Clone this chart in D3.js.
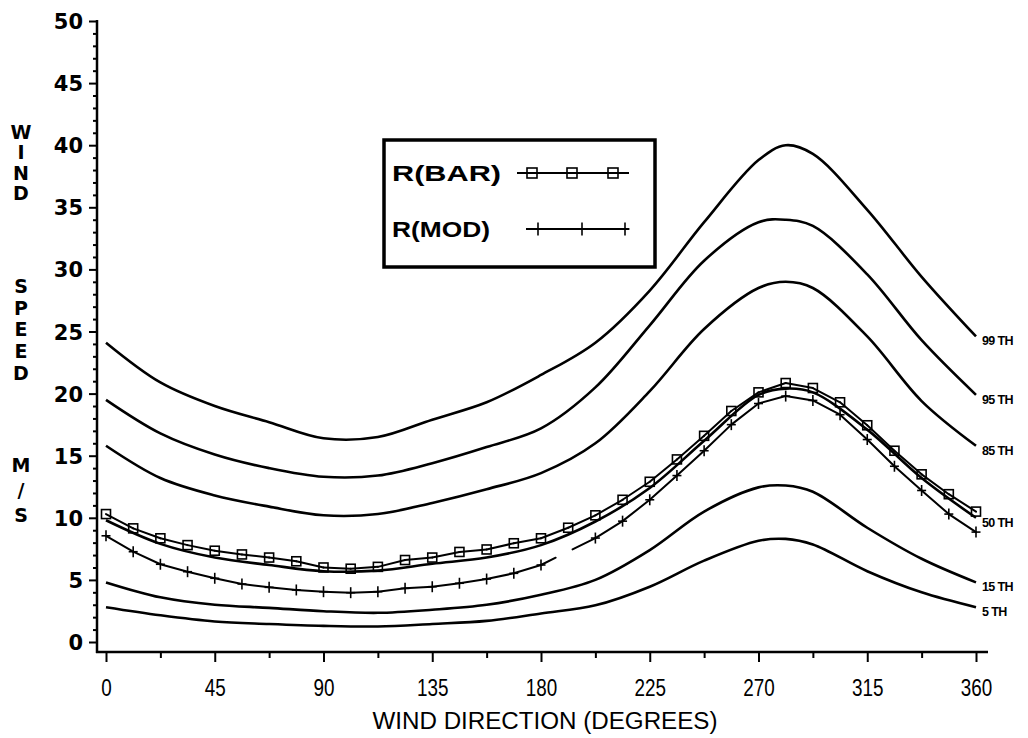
<!DOCTYPE html>
<html><head><meta charset="utf-8">
<script src="https://cdn.jsdelivr.net/npm/d3@7"></script>
<style>body{margin:0;background:#fff}svg{display:block}</style>
</head><body>
<svg id="c" width="1028" height="738"></svg>
<script>
// ---------------- DATA ----------------
// marker series: every 11.25 degrees
const markerDirections = d3.range(0, 360.001, 11.25);
const rBar = [10.3, 9.15, 8.35, 7.8, 7.35, 7.05, 6.8, 6.5, 6.0,
              5.9, 6.05, 6.6, 6.8, 7.25, 7.45, 7.95, 8.35, 9.2,
              10.2, 11.45, 12.9, 14.7, 16.6, 18.6, 20.1,
              20.85, 20.45, 19.3, 17.45, 15.4, 13.5, 11.9, 10.5];
const rMod = [8.55, 7.27, 6.26, 5.66, 5.13, 4.67, 4.4, 4.19, 4.05,
              3.97, 4.05, 4.32, 4.45, 4.73, 5.07, 5.53, 6.2, null,
              8.37, 9.73, 11.45, 13.4, 15.4, 17.5, 19.2,
              19.8, 19.45, 18.3, 16.3, 14.15, 12.2, 10.3, 8.85];
// percentile curves
const pctDirections = [0, 22.5, 45, 67.5, 90, 112.5, 135, 157.5, 180, 202.5, 225, 247.5, 270, 281.25, 292.5, 315, 337.5, 360];
const p99 = [24.1, 20.9, 19.0, 17.7, 16.4, 16.5, 17.9, 19.3, 21.5, 24.1, 28.3, 33.8, 38.8, 40.0, 39.3, 34.8, 29.4, 24.6];
const p95 = [19.5, 16.8, 15.1, 14.0, 13.3, 13.4, 14.4, 15.7, 17.2, 20.5, 25.5, 30.7, 33.8, 34.0, 33.5, 29.6, 24.3, 19.9];
const p85 = [15.8, 13.2, 11.8, 10.9, 10.2, 10.3, 11.2, 12.3, 13.6, 16.0, 20.2, 25.2, 28.5, 29.0, 28.5, 24.6, 19.4, 15.8];
const p50 = [9.8, 7.9, 6.8, 6.2, 5.7, 5.75, 6.3, 6.8, 7.8, 9.7, 12.4, 16.2, 19.9, 20.4, 20.1, 17.1, 13.2, 10.0];
const p15 = [4.8, 3.6, 3.0, 2.75, 2.48, 2.35, 2.6, 3.0, 3.8, 5.0, 7.4, 10.5, 12.45, 12.6, 12.1, 9.2, 6.7, 4.8];
const p05 = [2.8, 2.15, 1.65, 1.45, 1.3, 1.25, 1.45, 1.7, 2.3, 2.95, 4.45, 6.55, 8.15, 8.3, 7.85, 5.7, 4.0, 2.8];
const pctSeries = [p99, p95, p85, p50, p15, p05];
const pctLabels = ["99 TH", "95 TH", "85 TH", "50 TH", "15 TH", "5 TH"];
// axes
const xTicks = [0, 45, 90, 135, 180, 225, 270, 315, 360];
const xTickLabels = ["0", "45", "90", "135", "180", "225", "270", "315", "360"];
const xMinorTicks = [22.5, 67.5, 112.5, 157.5, 202.5, 247.5, 292.5, 337.5];
const yTicks = [0, 5, 10, 15, 20, 25, 30, 35, 40, 45, 50];
const yMinorTicks = d3.range(0, 51, 1).filter(v => v % 5 !== 0);
const xTitle = "WIND DIRECTION (DEGREES)";
const yTitleWords = ["WIND", "SPEED", "M/S"];
const legendNames = ["R(BAR)", "R(MOD)"];

// ---------------- CHART ----------------
const svg = d3.select("#c");
const x = d3.scaleLinear().domain([0, 360]).range([106, 976]);
const y = d3.scaleLinear().domain([0, 50]).range([642, 21]);
const axisX = 97, axisY = 652;

// y axis
const gyMinor = svg.append("g").attr("transform", `translate(${axisX},0)`)
  .call(d3.axisLeft(y).tickValues(yMinorTicks).tickSize(4).tickFormat(""));
const gy = svg.append("g").attr("transform", `translate(${axisX},0)`)
  .call(d3.axisLeft(y).tickValues(yTicks).tickSize(8).tickPadding(6).tickFormat(d3.format("d")));
[gyMinor, gy].forEach(g => { g.select(".domain").remove(); g.selectAll("line").attr("stroke", "#000").attr("stroke-width", 2); });
gy.selectAll("text").attr("font-family", "DejaVu Sans").attr("font-weight", "bold")
  .attr("font-size", 21).attr("fill", "#000").attr("dy", "0.36em");
svg.append("line").attr("x1", axisX).attr("x2", axisX).attr("y1", y(50) - 1).attr("y2", axisY + 1)
  .attr("stroke", "#000").attr("stroke-width", 2.5);

// x axis
const gxMinor = svg.append("g").attr("transform", `translate(0,${axisY})`)
  .call(d3.axisBottom(x).tickValues(xMinorTicks).tickSize(6).tickFormat(""));
const gx = svg.append("g").attr("transform", `translate(0,${axisY})`)
  .call(d3.axisBottom(x).tickValues(xTicks).tickSize(10).tickFormat((d, i) => xTickLabels[i]));
[gxMinor, gx].forEach(g => { g.select(".domain").remove(); g.selectAll("line").attr("stroke", "#000").attr("stroke-width", 2); });
gx.selectAll("text").attr("font-family", "Liberation Sans").attr("font-size", 24)
  .attr("fill", "#000").attr("y", 44).attr("dy", 0)
  .attr("textLength", (d, i) => xTickLabels[i].length * 10.5).attr("lengthAdjust", "spacingAndGlyphs");
svg.append("line").attr("x1", axisX - 1).attr("x2", 988).attr("y1", axisY).attr("y2", axisY)
  .attr("stroke", "#000").attr("stroke-width", 2.5);

// axis titles
svg.append("text").attr("x", 545).attr("y", 729).attr("text-anchor", "middle")
  .attr("font-family", "Liberation Sans").attr("font-size", 23)
  .attr("textLength", 345).attr("lengthAdjust", "spacingAndGlyphs").text(xTitle);

const wordStarts = [132, 286, 465];
const letterGap = [20.3, 21.7, 25];
yTitleWords.forEach((w, wi) => {
  const t = svg.append("text").attr("text-anchor", "middle")
    .attr("font-family", "DejaVu Sans").attr("font-weight", "bold").attr("font-size", 19);
  w.split("").forEach((ch, ci) => {
    t.append("tspan").attr("x", 21).attr("y", wordStarts[wi] + ci * letterGap[wi] + 7).text(ch);
  });
});

// percentile curves
const curveLine = d3.line().x(d => x(d[0])).y(d => y(d[1])).curve(d3.curveCatmullRom.alpha(0.5));
pctSeries.forEach((s, i) => {
  const pts = pctDirections.map((d, j) => [d, s[j]]);
  svg.append("path").attr("d", curveLine(pts)).attr("fill", "none")
    .attr("stroke", "#000").attr("stroke-width", 2.6).attr("stroke-linejoin", "round");
  svg.append("text").attr("x", x(360) + 6).attr("y", y(s[s.length - 1]) + 5)
    .attr("dominant-baseline", "central")
    .attr("font-family", "Liberation Sans").attr("font-weight", "bold").attr("font-size", 12.5)
    .attr("letter-spacing", "-0.6").text(pctLabels[i]);
});

// marker series lines
function drawSeries(vals, width) {
  const pts = markerDirections.map((d, i) => ({ d, v: vals[i], i })).filter(p => p.v != null);
  for (let k = 0; k < pts.length - 1; k++) {
    const a = pts[k], b = pts[k + 1];
    const ax = x(a.d), ay = y(a.v), bx = x(b.d), by = y(b.v);
    const segs = (b.i - a.i > 1) ? [[0, 0.27], [0.58, 1]] : [[0, 1]];
    segs.forEach(([f0, f1]) => {
      svg.append("line")
        .attr("x1", ax + (bx - ax) * f0).attr("y1", ay + (by - ay) * f0)
        .attr("x2", ax + (bx - ax) * f1).attr("y2", ay + (by - ay) * f1)
        .attr("stroke", "#000").attr("stroke-width", width).attr("stroke-linecap", "round");
    });
  }
  return pts;
}
const barPts = drawSeries(rBar, 2);
const modPts = drawSeries(rMod, 2);

function square(g, cx, cy, s) {
  g.append("rect").attr("x", cx - s / 2).attr("y", cy - s / 2).attr("width", s).attr("height", s)
    .attr("fill", "none").attr("stroke", "#000").attr("stroke-width", 1.6);
}
function plus(g, cx, cy, w, h) {
  g.append("line").attr("x1", cx - w / 2).attr("x2", cx + w / 2).attr("y1", cy).attr("y2", cy)
    .attr("stroke", "#000").attr("stroke-width", 1.6);
  g.append("line").attr("x1", cx).attr("x2", cx).attr("y1", cy - h / 2).attr("y2", cy + h / 2)
    .attr("stroke", "#000").attr("stroke-width", 1.6);
}
const mk = svg.append("g");
barPts.forEach(p => square(mk, x(p.d), y(p.v), 9));
modPts.forEach(p => plus(mk, x(p.d), y(p.v), 9, 11));

// legend
const lg = svg.append("g");
lg.append("rect").attr("x", 384).attr("y", 140).attr("width", 271).attr("height", 127)
  .attr("fill", "#fff").attr("stroke", "#000").attr("stroke-width", 3.5);
const legendY = [173, 229];
const legendLen = [109, 98];
legendNames.forEach((n, i) => {
  lg.append("text").attr("x", 392).attr("y", legendY[i] + 8)
    .attr("font-family", "Liberation Sans").attr("font-weight", "bold").attr("font-size", 22)
    .attr("textLength", legendLen[i]).attr("lengthAdjust", "spacingAndGlyphs").text(n);
});
lg.append("line").attr("x1", 517).attr("x2", 629).attr("y1", legendY[0]).attr("y2", legendY[0])
  .attr("stroke", "#000").attr("stroke-width", 2);
[532, 572, 613].forEach(cx => square(lg, cx, legendY[0], 10));
lg.append("line").attr("x1", 526).attr("x2", 629).attr("y1", legendY[1]).attr("y2", legendY[1])
  .attr("stroke", "#000").attr("stroke-width", 2);
[538, 582, 625].forEach(cx => plus(lg, cx, legendY[1], 9, 13));
</script>
</body></html>
